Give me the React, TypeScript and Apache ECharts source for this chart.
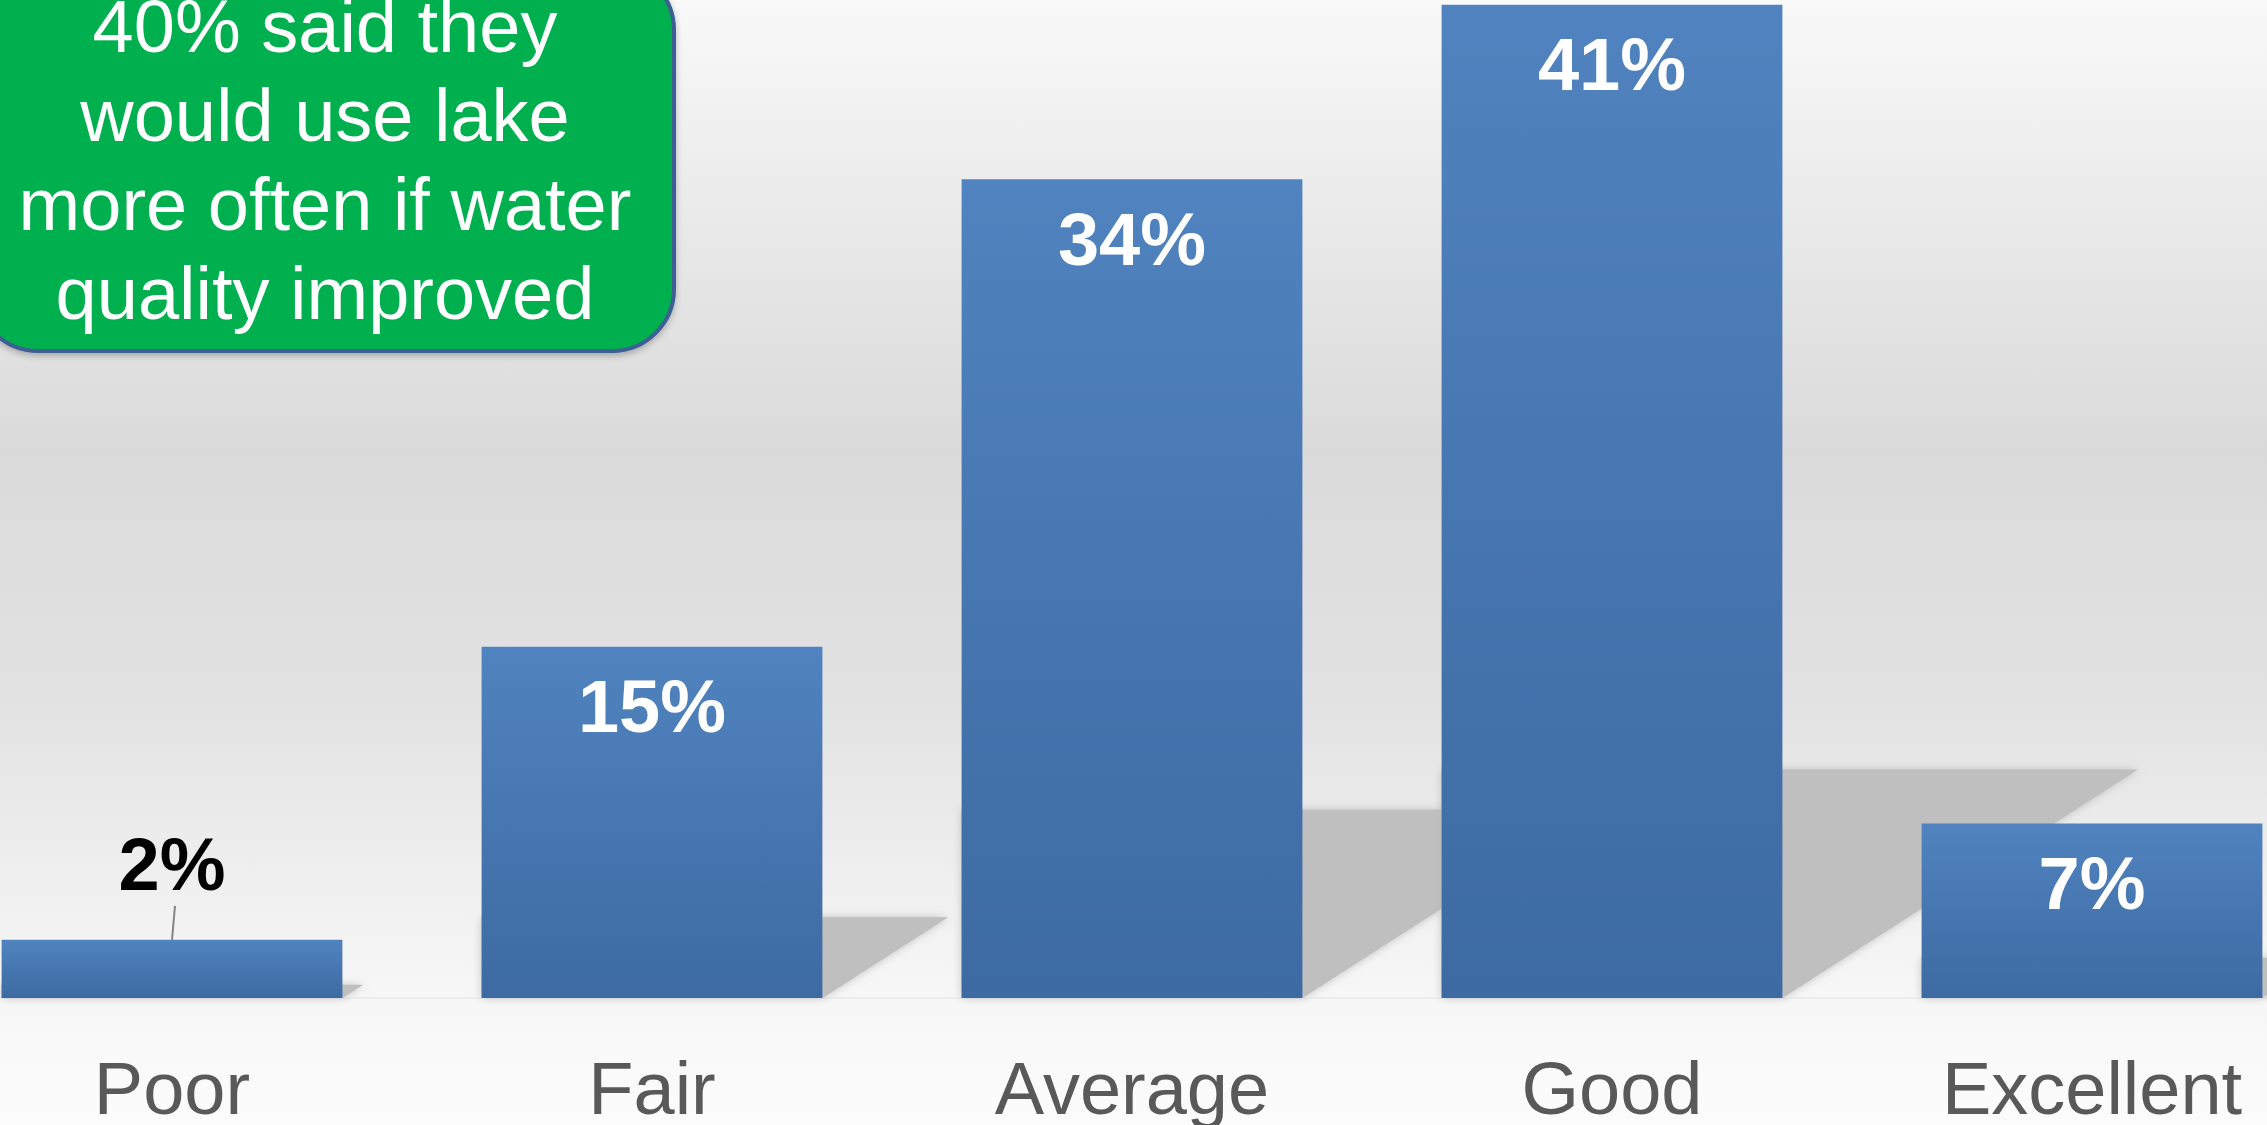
import React, { useEffect, useRef } from "react";
import * as echarts from "echarts";

const categories = ["Poor", "Fair", "Average", "Good", "Excellent"];
const values = [2.4, 14.5, 33.8, 41.0, 7.2];
const calloutLines = [
  "40% said they",
  "would use lake",
  "more often if water",
  "quality improved",
];

const FONT = "'Liberation Sans', Arial, sans-serif";
const BAR_RATIO = 0.71;
const SHIFT = 68; // chart canvas extends beyond the page on both sides

export default function App() {
  const ref = useRef<HTMLDivElement>(null);

  useEffect(() => {
    if (!ref.current) return;
    const chart = echarts.init(ref.current, undefined, { renderer: "svg" });

    const barData = values.map((v) =>
      v < 5
        ? { value: v, label: { position: "top", distance: 38, color: "#000000" } }
        : { value: v }
    );
    const outsideData = values
      .map((v, i) => [i, v])
      .filter((d) => d[1] < 5);

    const option: any = {
      animation: false,
      backgroundColor: "transparent",
      grid: { left: 0, right: 0, top: 0, height: 1000, containLabel: false },
      xAxis: {
        type: "category",
        data: categories,
        axisTick: { show: false },
        axisLine: { show: true, lineStyle: { color: "#ededed", width: 2 } },
        axisLabel: {
          fontSize: 74,
          lineHeight: 74,
          color: "#595959",
          fontFamily: FONT,
          margin: 53,
          interval: 0,
        },
        splitLine: { show: false },
      },
      yAxis: {
        type: "value",
        min: 0,
        max: 41.2,
        show: false,
        splitLine: { show: false },
      },
      series: [
        {
          type: "custom",
          z: 1,
          clip: false,
          data: values.map((v, i) => [i, v]),
          renderItem: (params: any, api: any) => {
            const i = api.value(0);
            const v = api.value(1);
            const base = api.coord([i, 0]);
            const top = api.coord([i, v]);
            const band = api.size([1, 0])[0];
            const bw = band * BAR_RATIO;
            const xL = base[0] - bw / 2;
            const xR = base[0] + bw / 2;
            const H = base[1] - top[1];
            const h = H * 0.23;
            const s = H * 0.358;
            return {
              type: "polygon",
              shape: {
                points: [
                  [xL, base[1]],
                  [xR, base[1]],
                  [xR + s, base[1] - h],
                  [xL, base[1] - h],
                ],
              },
              style: {
                fill: "#bfbfbf",
                shadowBlur: 8,
                shadowColor: "rgba(180,180,180,0.8)",
              },
            };
          },
        },
        {
          type: "bar",
          z: 3,
          barWidth: BAR_RATIO * 100 + "%",
          data: barData,
          itemStyle: {
            color: {
              type: "linear",
              x: 0,
              y: 0,
              x2: 0,
              y2: 1,
              colorStops: [
                { offset: 0, color: "#5083BF" },
                { offset: 1, color: "#3D6AA2" },
              ],
            },
          },
          label: {
            show: true,
            position: "insideTop",
            distance: 23,
            formatter: (p: any) => Math.round(values[p.dataIndex]) + "%",
            fontSize: 74,
            lineHeight: 74,
            fontWeight: "bold",
            color: "#ffffff",
            fontFamily: FONT,
          },
        },
        {
          type: "custom",
          z: 4,
          clip: false,
          data: outsideData,
          renderItem: (params: any, api: any) => {
            const top = api.coord([api.value(0), api.value(1)]);
            return {
              type: "line",
              shape: { x1: top[0], y1: top[1], x2: top[0] + 3, y2: top[1] - 34 },
              style: { stroke: "#858585", lineWidth: 2 },
            };
          },
        },
      ],
      graphic: [
        {
          type: "group",
          z: 100,
          children: [
            {
              type: "rect",
              shape: { x: -24 + SHIFT, y: -32, width: 698, height: 383, r: 62 },
              style: {
                fill: "#00B050",
                stroke: "#3D5E93",
                lineWidth: 4,
                shadowBlur: 6,
                shadowOffsetY: 3,
                shadowColor: "rgba(0,0,0,0.25)",
              },
            },
            {
              type: "text",
              x: 325 + SHIFT,
              y: 159.5,
              style: {
                text: calloutLines.join("\n"),
                fontSize: 74,
                lineHeight: 89,
                fontFamily: FONT,
                fill: "#ffffff",
                align: "center",
                verticalAlign: "middle",
              },
            },
          ],
        },
      ],
    };

    chart.setOption(option);
    return () => chart.dispose();
  }, []);

  return (
    <div
      style={{
        position: "fixed",
        left: 0,
        top: 0,
        width: 2267,
        height: 1125,
        overflow: "hidden",
        background:
          "linear-gradient(to bottom, #f9f9f9 0%, #ededed 15%, #dadada 40%, #e2e2e2 62%, #efefef 78%, #f7f7f7 89%, #fcfcfc 100%)",
      }}
    >
      <div
        ref={ref}
        style={{ position: "absolute", left: -SHIFT, top: 0, width: 2400, height: 1125 }}
      />
    </div>
  );
}
